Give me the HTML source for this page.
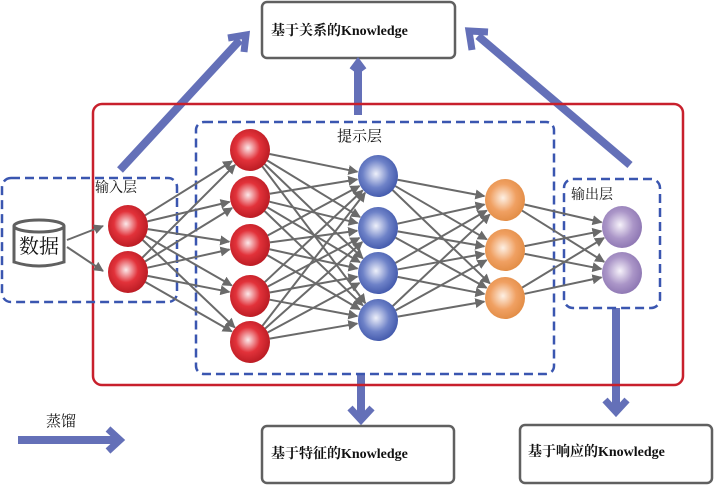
<!DOCTYPE html>
<html><head><meta charset="utf-8"><style>
html,body{margin:0;padding:0;background:#fff;width:716px;height:486px;overflow:hidden}
svg{display:block}
text{font-family:"Liberation Serif","Noto Serif CJK SC",serif;fill:#111}
</style></head><body>
<svg id="s" width="716" height="486" viewBox="0 0 716 486" xmlns="http://www.w3.org/2000/svg">
<defs>
<radialGradient id="gr" cx="0.45" cy="0.45" r="0.6"><stop offset="0" stop-color="#fbe9ea"/><stop offset="0.5" stop-color="#e2323a"/><stop offset="1" stop-color="#b51820"/></radialGradient>
<radialGradient id="gb" cx="0.45" cy="0.45" r="0.6"><stop offset="0" stop-color="#eef0fa"/><stop offset="0.55" stop-color="#6e82c8"/><stop offset="1" stop-color="#3d54a8"/></radialGradient>
<radialGradient id="go" cx="0.45" cy="0.45" r="0.6"><stop offset="0" stop-color="#fdf0e4"/><stop offset="0.55" stop-color="#f0a062"/><stop offset="1" stop-color="#e08a42"/></radialGradient>
<radialGradient id="gp" cx="0.45" cy="0.45" r="0.6"><stop offset="0" stop-color="#f6f2fa"/><stop offset="0.55" stop-color="#ab96c8"/><stop offset="1" stop-color="#8a73b0"/></radialGradient>
<marker id="ah" markerWidth="6" markerHeight="6" refX="5" refY="3" orient="auto" markerUnits="userSpaceOnUse" viewBox="0 0 6 6"><path d="M0,0 L6,3 L0,6 z" fill="#6a6a6a"/></marker>
<marker id="ah2" markerWidth="10" markerHeight="10" refX="9" refY="5" orient="auto" markerUnits="userSpaceOnUse"><path d="M0,0 L10,5 L0,10 z" fill="#6a6a6a"/></marker>
</defs>
<!-- top box -->
<rect x="262" y="2" width="193" height="56" rx="5" fill="#fff" stroke="#606060" stroke-width="2.5"/>
<text x="271" y="35" font-size="14" font-weight="bold">基于关系的Knowledge</text>
<!-- big arrows -->
<g stroke="#6470b8" stroke-width="8" fill="none" stroke-linejoin="miter">
<line x1="120" y1="170" x2="240" y2="40"/>
<polyline points="228,38 246,35 244,52" stroke-width="7"/>
<line x1="630" y1="165" x2="478" y2="36"/>
<polyline points="472,50 469,31 488,32" stroke-width="7"/>
<line x1="358" y1="115" x2="358" y2="64"/>
<polyline points="352,70 358,62 364,70" stroke-width="6"/>
<line x1="361" y1="374" x2="361" y2="418"/>
<polyline points="350,408 361,420 372,408" stroke-width="7"/>
<line x1="616" y1="308" x2="616" y2="410"/>
<polyline points="605,400 616,412 627,400" stroke-width="7"/>
<line x1="18" y1="440" x2="118" y2="440"/>
<polyline points="108,429 120,440 108,451" stroke-width="7"/>
</g>
<!-- red box -->
<rect x="93" y="104" width="590" height="281" rx="9" fill="none" stroke="#c8202c" stroke-width="2.5"/>
<!-- dashed boxes -->
<g fill="none" stroke="#3a56b0" stroke-width="2.5" stroke-dasharray="9,5">
<rect x="196" y="122" width="358" height="252" rx="8"/>
<rect x="2" y="178" width="175" height="124" rx="9"/>
<rect x="564" y="179" width="96" height="129" rx="9"/>
</g>
<text x="337" y="141" font-size="15">提示层</text>
<text x="95" y="192" font-size="14">输入层</text>
<text x="571" y="199" font-size="14">输出层</text>
<text x="46" y="426" font-size="15">蒸馏</text>
<!-- database -->
<path d="M14,226 L14,262 Q39,270 64,262 L64,226" fill="#fff" stroke="#606060" stroke-width="3"/>
<ellipse cx="39" cy="226" rx="25" ry="6" fill="#fff" stroke="#606060" stroke-width="3"/>
<text x="19" y="253" font-size="20" font-family="'Noto Sans CJK SC',sans-serif">数据</text>
<line x1="67" y1="240" x2="103" y2="226" stroke="#6a6a6a" stroke-width="2" marker-end="url(#ah2)"/>
<line x1="67" y1="247" x2="103" y2="271" stroke="#6a6a6a" stroke-width="2" marker-end="url(#ah2)"/>
<g id="lines"></g>
<g id="nodes"></g>
<!-- bottom boxes -->
<rect x="262" y="426" width="192" height="57" rx="5" fill="#fff" stroke="#606060" stroke-width="2.5"/>
<text x="271" y="458" font-size="14" font-weight="bold">基于特征的Knowledge</text>
<rect x="520" y="425" width="192" height="58" rx="5" fill="#fff" stroke="#606060" stroke-width="2.5"/>
<text x="528" y="456" font-size="14" font-weight="bold">基于响应的Knowledge</text>
</svg>
<script>
var L=[
 {x:128,ys:[226,272],g:'gr'},
 {x:250,ys:[150,197,245,296,342],g:'gr'},
 {x:378,ys:[176,228,273,320],g:'gb'},
 {x:505,ys:[200,250,298],g:'go'},
 {x:622,ys:[227,273],g:'gp'}];
var ns='http://www.w3.org/2000/svg',lg=document.getElementById('lines'),ng=document.getElementById('nodes'),r=20;
for(var i=0;i<L.length-1;i++){var a=L[i],b=L[i+1];
 a.ys.forEach(function(y1){b.ys.forEach(function(y2){
  var dx=b.x-a.x,dy=y2-y1,d=Math.sqrt(dx*dx+dy*dy);
  var l=document.createElementNS(ns,'line');
  l.setAttribute('x1',a.x+dx/d*r);l.setAttribute('y1',y1+dy/d*r);
  l.setAttribute('x2',b.x-dx/d*(r+1));l.setAttribute('y2',y2-dy/d*(r+1));
  l.setAttribute('stroke','#6a6a6a');l.setAttribute('stroke-width','2');l.setAttribute('marker-end','url(#ah2)');
  lg.appendChild(l);});});}
L.forEach(function(a){a.ys.forEach(function(y){var c=document.createElementNS(ns,'ellipse');
 c.setAttribute('cx',a.x);c.setAttribute('cy',y);c.setAttribute('rx',20);c.setAttribute('ry',21);c.setAttribute('fill','url(#'+a.g+')');ng.appendChild(c);});});
</script>
</body></html>
